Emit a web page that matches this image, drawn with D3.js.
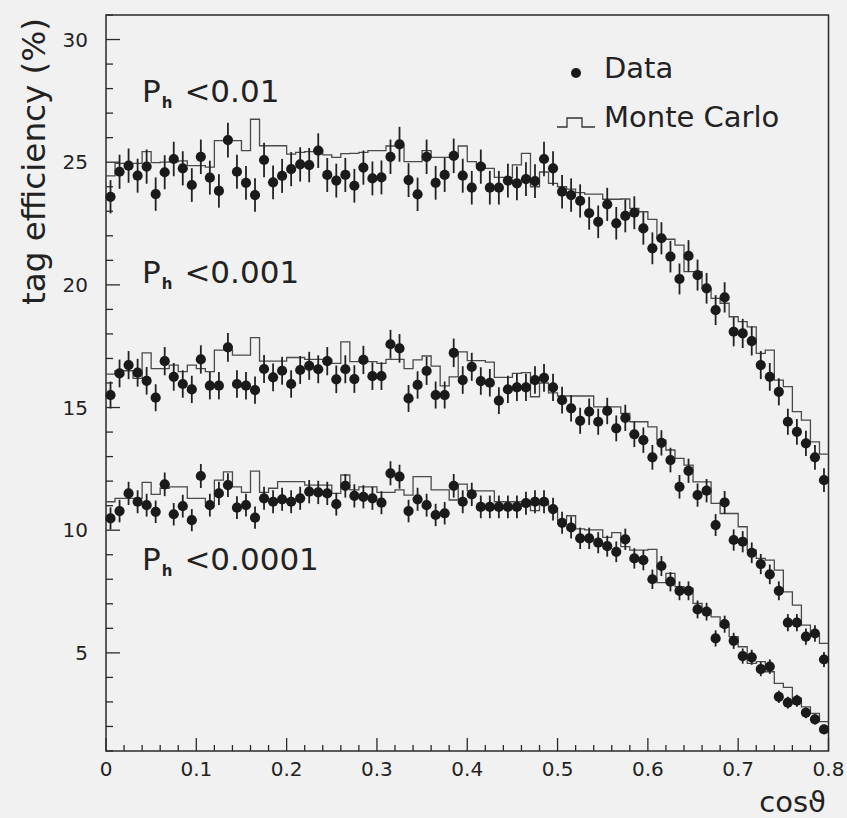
<!DOCTYPE html>
<html>
<head>
<meta charset="utf-8">
<script src="https://cdn.jsdelivr.net/npm/d3@7"></script>
<style>
  html, body { margin: 0; padding: 0; background: #f1f1f1; }
  svg { display: block; }
  text { font-family: "DejaVu Sans", sans-serif; fill: #222; }
</style>
</head>
<body>
<svg id="chart" width="847" height="818"></svg>
<script>
// ---------------- data ----------------
const binWidth = 0.01;
const xTickLabels = ["0", "0.1", "0.2", "0.3", "0.4", "0.5", "0.6", "0.7", "0.8"];
const yTickLabels = ["5", "10", "15", "20", "25", "30"];
const cutLabels = ["<0.01", "<0.001", "<0.0001"];
const legendLabels = ["Data", "Monte Carlo"];

// P_h < 0.01
const dataCut1 = [
  23.59, 24.61, 24.86, 24.45, 24.82, 23.70, 24.59, 25.13, 24.75, 24.07,
  25.22, 24.37, 23.83, 25.90, 24.61, 24.16, 23.66, 25.09, 24.18, 24.44,
  24.72, 24.91, 24.88, 25.47, 24.48, 24.25, 24.48, 24.04, 24.78, 24.34,
  24.38, 25.22, 25.73, 24.27, 23.69, 25.22, 24.16, 24.48, 25.26, 24.45,
  23.96, 24.82, 23.96, 23.96, 24.25, 24.14, 24.31, 24.23, 25.13, 24.75,
  23.80, 23.66, 23.42, 22.92, 22.57, 23.28, 22.51, 22.81, 22.94, 22.30,
  21.49, 21.90, 21.15, 20.24, 21.18, 20.40, 19.86, 18.97, 19.49, 18.09,
  18.02, 17.71, 16.73, 16.25, 15.64, 14.42, 14.01, 13.54, 12.97, 12.04
];
const mcCut1 = [
  24.44, 24.95, 24.95, 24.95, 25.43, 24.98, 25.00, 25.02, 25.05, 24.86,
  24.86, 24.80, 25.88, 25.88, 25.88, 25.47, 26.75, 25.67, 25.67, 25.67,
  25.33, 25.40, 25.43, 25.50, 25.30, 25.20, 25.35, 25.36, 25.40, 25.47,
  25.47, 25.66, 25.66, 25.02, 25.02, 25.47, 25.20, 25.20, 25.20, 25.66,
  25.02, 24.89, 24.75, 24.38, 24.38, 24.89, 25.36, 24.00, 24.60, 24.14,
  24.00, 23.90, 23.76, 23.70, 23.70, 23.49, 23.49, 23.50, 23.12, 22.98,
  22.67, 21.90, 21.86, 21.62, 20.54, 20.54, 19.86, 19.45, 19.25, 18.70,
  18.50, 18.29, 17.21, 17.34, 16.12, 15.85, 14.83, 14.49, 13.60, 13.10
];
// P_h < 0.001
const dataCut2 = [
  15.51, 16.39, 16.73, 16.42, 16.09, 15.40, 16.89, 16.25, 15.96, 15.74,
  16.96, 15.89, 15.89, 17.45, 15.96, 15.89, 15.71, 16.57, 16.23, 16.50,
  15.96, 16.53, 16.70, 16.56, 16.89, 16.15, 16.56, 16.16, 16.94, 16.28,
  16.28, 17.58, 17.41, 15.37, 15.92, 16.49, 15.51, 15.51, 17.23, 16.12,
  16.66, 16.08, 16.01, 15.28, 15.74, 15.82, 15.82, 16.12, 16.21, 15.82,
  15.30, 14.97, 14.46, 14.83, 14.42, 14.86, 14.15, 14.58, 13.91, 13.67,
  12.97, 13.56, 12.86, 11.77, 12.42, 11.43, 11.61, 10.21, 11.13, 9.60,
  9.53, 9.08, 8.62, 8.20, 7.53, 6.23, 6.23, 5.66, 5.79, 4.73
];
const mcCut2 = [
  16.36, 16.50, 16.50, 16.19, 17.23, 16.59, 16.59, 16.73, 16.46, 16.73,
  16.59, 16.46, 17.34, 17.34, 17.14, 17.14, 17.85, 16.89, 16.89, 16.89,
  17.04, 17.04, 16.96, 16.96, 16.96, 16.80, 17.68, 16.87, 16.90, 16.87,
  16.80, 16.96, 16.96, 16.59, 16.94, 17.10, 16.69, 15.88, 16.25, 17.27,
  16.91, 16.91, 16.85, 16.23, 16.23, 16.39, 16.42, 15.44, 16.00, 15.60,
  15.47, 15.47, 15.47, 15.47, 15.03, 15.03, 15.03, 14.76, 14.42, 14.42,
  14.21, 13.67, 13.27, 12.93, 12.65, 11.97, 11.97, 11.09, 10.68, 10.68,
  10.14, 9.19, 8.85, 8.78, 8.37, 7.49, 6.95, 6.13, 5.72, 5.39
];
// P_h < 0.0001
const dataCut3 = [
  10.48, 10.78, 11.50, 11.16, 11.02, 10.75, 11.87, 10.65, 10.98, 10.41,
  12.21, 11.02, 11.50, 11.84, 10.92, 11.02, 10.51, 11.30, 11.16, 11.26,
  11.16, 11.30, 11.57, 11.54, 11.50, 11.06, 11.81, 11.40, 11.36, 11.30,
  11.12, 12.32, 12.18, 10.78, 11.26, 11.02, 10.62, 10.69, 11.81, 11.16,
  11.46, 10.95, 10.95, 10.95, 10.95, 10.95, 11.10, 11.16, 11.16, 10.86,
  10.30, 10.11, 9.67, 9.67, 9.49, 9.35, 9.12, 9.63, 8.85, 8.78,
  8.00, 8.54, 7.90, 7.53, 7.53, 6.77, 6.68, 5.59, 6.17, 5.49,
  4.87, 4.82, 4.34, 4.44, 3.21, 2.97, 3.05, 2.56, 2.29, 1.88
];
const mcCut3 = [
  11.16, 11.30, 11.30, 11.30, 11.95, 11.46, 11.71, 11.77, 11.77, 11.30,
  11.30, 11.10, 12.04, 12.38, 11.77, 11.54, 12.41, 11.54, 11.71, 11.98,
  11.98, 11.98, 11.84, 11.84, 11.84, 11.50, 12.25, 11.64, 11.77, 11.77,
  11.54, 11.54, 11.64, 11.43, 12.18, 12.18, 11.64, 11.64, 11.23, 11.88,
  11.60, 11.60, 11.60, 11.16, 11.16, 11.16, 11.16, 10.80, 11.16, 10.90,
  10.40, 10.59, 10.05, 10.01, 10.01, 9.71, 9.90, 9.33, 9.19, 9.19,
  9.22, 7.86, 8.24, 7.70, 7.63, 7.02, 6.75, 6.47, 6.07, 5.66,
  5.25, 4.57, 4.64, 4.23, 3.76, 3.59, 3.15, 2.80, 2.53, 2.20
];
// statistical error scale (err = k * sqrt(value))
const errScale = 0.14;

// ---------------- layout ----------------
const svg = d3.select("#chart");
const x = d3.scaleLinear().domain([0, 0.8]).range([106, 828.5]);
const y = d3.scaleLinear().domain([1, 31]).range([751, 15]);

const axisColor = "#2a2a2a";
const g = svg.append("g");

// frame
g.append("rect")
  .attr("x", x(0)).attr("y", y(31))
  .attr("width", x(0.8) - x(0)).attr("height", y(1) - y(31))
  .attr("fill", "none").attr("stroke", axisColor).attr("stroke-width", 1.5);

// x ticks (inward)
const xMinor = d3.range(0, 41).map(i => i * 0.02);
g.selectAll(".xt").data(xMinor).join("line")
  .attr("x1", d => x(d)).attr("x2", d => x(d))
  .attr("y1", y(1))
  .attr("y2", (d, i) => y(1) - (i % 5 === 0 ? 13 : 6))
  .attr("stroke", axisColor).attr("stroke-width", 1.3);
g.selectAll(".xl").data(xTickLabels).join("text")
  .attr("x", (d, i) => x(i * 0.1))
  .attr("y", 776)
  .attr("text-anchor", "middle")
  .attr("font-size", 20)
  .text(d => d);

// y ticks (inward)
const yMinor = d3.range(1, 32);
g.selectAll(".yt").data(yMinor).join("line")
  .attr("y1", d => y(d)).attr("y2", d => y(d))
  .attr("x1", x(0))
  .attr("x2", d => x(0) + (d % 5 === 0 ? 14 : 7))
  .attr("stroke", axisColor).attr("stroke-width", 1.3);
g.selectAll(".yl").data(yTickLabels).join("text")
  .attr("x", 88)
  .attr("y", d => y(+d))
  .attr("dy", "0.36em")
  .attr("text-anchor", "end")
  .attr("font-size", 20)
  .text(d => d);

// axis titles
svg.append("text")
  .attr("transform", "translate(45,18) rotate(-90)")
  .attr("text-anchor", "end")
  .attr("font-size", 32)
  .attr("textLength", 287)
  .attr("lengthAdjust", "spacingAndGlyphs")
  .text("tag efficiency (%)");
svg.append("text")
  .attr("x", 826).attr("y", 812)
  .attr("text-anchor", "end")
  .attr("font-size", 29)
  .text("cos\u03D1");

// ---------------- series ----------------
const series = [
  { data: dataCut1, mc: mcCut1 },
  { data: dataCut2, mc: mcCut2 },
  { data: dataCut3, mc: mcCut3 }
];

const stepLine = d3.line().x(d => x(d[0])).y(d => y(d[1]));

series.forEach(s => {
  const pts = [];
  s.mc.forEach((v, i) => {
    pts.push([i * binWidth, v]);
    pts.push([(i + 1) * binWidth, v]);
  });
  g.append("path")
    .attr("d", stepLine(pts))
    .attr("fill", "none")
    .attr("stroke", "#4a4a4a")
    .attr("stroke-width", 1.3);
});

series.forEach(s => {
  const pg = g.append("g");
  pg.selectAll("line").data(s.data).join("line")
    .attr("x1", (d, i) => x((i + 0.5) * binWidth))
    .attr("x2", (d, i) => x((i + 0.5) * binWidth))
    .attr("y1", d => y(d + errScale * Math.sqrt(d)))
    .attr("y2", d => y(d - errScale * Math.sqrt(d)))
    .attr("stroke", "#222").attr("stroke-width", 1.8);
  pg.selectAll("circle").data(s.data).join("circle")
    .attr("cx", (d, i) => x((i + 0.5) * binWidth))
    .attr("cy", d => y(d))
    .attr("r", 5.1)
    .attr("fill", "#1a1a1a");
});

// ---------------- cut labels ----------------
const labelY = [102, 283, 570];
cutLabels.forEach((lab, i) => {
  const t = svg.append("text").attr("x", 142).attr("y", labelY[i]).attr("font-size", 31);
  t.append("tspan").text("P");
  t.append("tspan").attr("font-size", 15).attr("font-weight", "bold").attr("dx", 1).attr("dy", 6).text("h");
  t.append("tspan").attr("dx", 12).attr("dy", -6).text(lab);
});

// ---------------- legend ----------------
svg.append("circle").attr("cx", 576).attr("cy", 73).attr("r", 5).attr("fill", "#1a1a1a");
svg.append("text").attr("x", 604).attr("y", 78).attr("font-size", 29).text(legendLabels[0]);
svg.append("path")
  .attr("d", d3.line()([[557, 127], [567, 127], [567, 118], [582, 118], [582, 127], [595, 127]]))
  .attr("fill", "none").attr("stroke", "#333").attr("stroke-width", 1.3);
svg.append("text").attr("x", 604).attr("y", 127).attr("font-size", 29).text(legendLabels[1]);
</script>
</body>
</html>
